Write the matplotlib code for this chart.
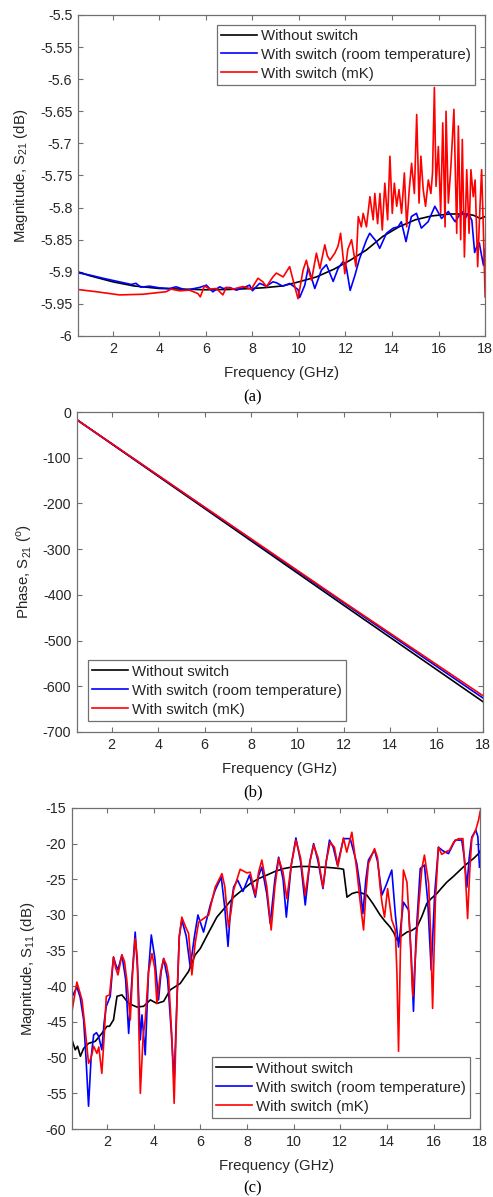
import matplotlib
matplotlib.use("Agg")
import matplotlib.pyplot as plt

plt.rcParams["font.family"] = ["Liberation Sans", "DejaVu Sans"]
plt.rcParams["axes.unicode_minus"] = False

LABELS = ["Without switch", "With switch (room temperature)", "With switch (mK)"]
COLORS = ["#000000", "#0000ff", "#ff0000"]

# ---- (a) |S21| in dB ----
fa_k = [0.5, 1, 2, 2.9, 4, 5, 6, 7, 8, 8.6, 9.3, 10, 10.75, 11.5, 12.2, 12.9, 13.6,
        14.3, 15, 15.7, 16.5, 17.2, 17.5, 17.8, 18]
s21_k = [-5.900, -5.906, -5.9156, -5.922, -5.926, -5.927, -5.928, -5.9275, -5.926,
         -5.9245, -5.922, -5.9156, -5.908, -5.896, -5.882, -5.866, -5.845, -5.830,
         -5.819, -5.813, -5.810, -5.810, -5.812, -5.817, -5.814]

fa_b = [0.5, 1.0, 1.57, 2.2, 2.79, 3.0, 3.2, 3.58, 4.0, 4.44, 4.72, 5.15, 5.73, 6.02,
        6.3, 6.59, 6.75, 7.02, 7.31, 7.6, 7.88, 8.0, 8.31, 8.6, 8.88, 9.03, 9.3, 9.6,
        9.96, 10.03, 10.25, 10.4, 10.68, 10.97, 11.18, 11.47, 11.68, 11.9, 12.03, 12.2,
        12.41, 12.6, 12.9, 13.04, 13.33, 13.47, 13.76, 14.05, 14.26, 14.4, 14.6, 14.83,
        15.05, 15.26, 15.55, 15.84, 16.13, 16.42, 16.71, 17.0, 17.14, 17.28, 17.43,
        17.55, 17.65, 17.75, 17.85, 17.93, 18.0]
s21_b = [-5.9015, -5.905, -5.910, -5.915, -5.9197, -5.918, -5.924, -5.9224, -5.925,
         -5.926, -5.9234, -5.9286, -5.9244, -5.9208, -5.9312, -5.9234, -5.926, -5.9244,
         -5.9286, -5.925, -5.9208, -5.9296, -5.918, -5.9224, -5.9156, -5.917, -5.9224,
         -5.9182, -5.9276, -5.9400, -5.921, -5.893, -5.926, -5.897, -5.889, -5.915,
         -5.895, -5.884, -5.892, -5.929, -5.905, -5.880, -5.8505, -5.840, -5.853,
         -5.8635, -5.840, -5.832, -5.830, -5.822, -5.853, -5.814, -5.809, -5.832,
         -5.822, -5.798, -5.817, -5.806, -5.822, -5.806, -5.817, -5.809, -5.820,
         -5.870, -5.860, -5.855, -5.875, -5.890, -5.865]

fa_r = [0.5, 1.28, 2.29, 3.29, 4.3, 4.5, 4.87, 5.3, 5.66, 5.76, 5.94, 6.16, 6.45, 6.73,
        6.88, 7.16, 7.6, 7.95, 8.24, 8.46, 8.6, 8.88, 9.03, 9.32, 9.6, 9.82, 9.96,
        10.18, 10.32, 10.43, 10.54, 10.75, 10.9, 11.11, 11.22, 11.33, 11.54, 11.68,
        11.79, 11.97, 12.1, 12.26, 12.45, 12.55, 12.68, 12.76, 12.9, 13.05, 13.19,
        13.26, 13.38, 13.48, 13.58, 13.69, 13.81, 13.91, 14.01, 14.1, 14.2, 14.3,
        14.41, 14.53, 14.63, 14.74, 14.84, 14.96, 15.06, 15.16, 15.24, 15.34, 15.44,
        15.56, 15.67, 15.74, 15.82, 15.89, 15.99, 16.09, 16.18, 16.28, 16.32, 16.42,
        16.53, 16.66, 16.78, 16.85, 16.95, 17.02, 17.11, 17.21, 17.31, 17.39, 17.49,
        17.57, 17.68, 17.78, 17.85, 17.93, 18.0]
s21_r = [-5.9276, -5.931, -5.936, -5.935, -5.931, -5.927, -5.9296, -5.9286, -5.934,
         -5.939, -5.922, -5.927, -5.926, -5.936, -5.924, -5.927, -5.923, -5.927,
         -5.910, -5.916, -5.9234, -5.908, -5.902, -5.908, -5.892, -5.923, -5.942,
         -5.897, -5.882, -5.900, -5.913, -5.871, -5.895, -5.858, -5.875, -5.882,
         -5.871, -5.860, -5.840, -5.903, -5.865, -5.850, -5.892, -5.814, -5.830,
         -5.809, -5.830, -5.783, -5.819, -5.778, -5.825, -5.778, -5.835, -5.762,
         -5.819, -5.720, -5.809, -5.762, -5.798, -5.772, -5.809, -5.746, -5.830,
         -5.772, -5.731, -5.778, -5.655, -5.793, -5.720, -5.772, -5.798, -5.757,
         -5.778, -5.746, -5.613, -5.767, -5.705, -5.809, -5.668, -5.830, -5.650,
         -5.793, -5.736, -5.647, -5.840, -5.673, -5.850, -5.694, -5.877, -5.741,
         -5.840, -5.741, -5.783, -5.757, -5.892, -5.798, -5.741, -5.840, -5.939]

# ---- (b) phase S21 in degrees ----
fb = [0.5, 6, 12, 18]
ph_k = [-17, -211, -423, -634]
ph_b = [-17, -209, -418, -626]
ph_r = [-17, -208, -416, -621]

# ---- (c) |S11| in dB ----
fc_k = [0.5, 0.64, 0.74, 0.86, 1.0, 1.21, 1.5, 1.78, 2.0, 2.11, 2.28, 2.43, 2.64,
        2.93, 3.28, 3.57, 3.86, 4.14, 4.43, 4.71, 5.14, 5.5, 5.78, 6.0, 6.35, 6.71,
        7.05, 7.43, 7.8, 8.14, 8.5, 8.86, 9.2, 9.57, 9.9, 10.29, 10.65, 11.0, 11.35,
        11.71, 12.0, 12.14, 12.29, 12.5, 12.71, 12.9, 13.14, 13.4, 13.71, 13.9, 14.14,
        14.3, 14.43, 14.6, 14.86, 15.05, 15.29, 15.5, 15.71, 15.9, 16.14, 16.35,
        16.57, 16.85, 17.14, 17.4, 17.71, 17.93, 18.0]
s11_k = [-47.5, -48.9, -48.4, -49.8, -48.7, -48.0, -47.7, -46.6, -45.6, -45.6, -44.7,
         -41.4, -41.2, -42.4, -42.9, -42.8, -41.9, -42.4, -42.1, -40.5, -39.6, -37.9,
         -35.6, -34.7, -32.5, -30.3, -29.0, -27.5, -26.5, -25.6, -24.9, -24.4, -23.9,
         -23.5, -23.3, -23.2, -23.2, -23.3, -23.3, -23.4, -23.5, -23.6, -27.5, -27.0,
         -26.8, -26.9, -27.2, -28.4, -30.0, -30.8, -31.7, -32.5, -33.5, -33.0, -32.4,
         -32.2, -31.7, -30.2, -28.4, -27.7, -27.0, -26.2, -25.4, -24.6, -23.7, -22.9,
         -22.1, -21.4, -21.0]

fc_b = [0.5, 0.71, 0.85, 1.0, 1.1, 1.21, 1.32, 1.43, 1.55, 1.64, 1.78, 1.88, 1.97,
        2.14, 2.28, 2.38, 2.47, 2.64, 2.8, 2.93, 3.05, 3.21, 3.32, 3.43, 3.5, 3.64,
        3.78, 3.9, 4.05, 4.21, 4.32, 4.43, 4.6, 4.75, 4.88, 5.0, 5.1, 5.21, 5.4, 5.57,
        5.75, 5.9, 6.14, 6.43, 6.64, 6.9, 7.05, 7.19, 7.3, 7.43, 7.6, 7.83, 8.11, 8.36,
        8.5, 8.64, 8.85, 9.0, 9.2, 9.36, 9.55, 9.69, 9.9, 10.1, 10.3, 10.5, 10.7,
        10.86, 11.05, 11.26, 11.4, 11.54, 11.7, 11.88, 12.14, 12.43, 12.71, 12.85,
        12.97, 13.1, 13.21, 13.47, 13.6, 13.79, 13.97, 14.21, 14.36, 14.5, 14.71,
        14.93, 15.05, 15.14, 15.25, 15.43, 15.61, 15.75, 15.9, 16.05, 16.21, 16.4,
        16.64, 16.93, 17.21, 17.32, 17.43, 17.53, 17.64, 17.81, 17.9, 17.97]
s11_b = [-41.5, -40.1, -41.5, -44.7, -50.0, -56.8, -50.0, -46.8, -46.5, -47.0, -48.9,
         -45.0, -42.8, -41.4, -35.9, -37.0, -37.7, -35.6, -39.0, -46.6, -40.0, -32.4,
         -38.0, -47.5, -44.0, -49.6, -38.0, -32.8, -36.0, -41.9, -38.0, -36.1, -39.0,
         -46.0, -53.1, -42.0, -33.0, -30.7, -33.0, -37.3, -33.0, -30.0, -32.4, -28.6,
         -26.5, -24.7, -29.0, -34.4, -29.0, -26.1, -25.1, -26.7, -24.4, -27.5, -24.5,
         -23.3, -27.0, -31.2, -25.0, -21.9, -25.0, -30.3, -23.0, -19.2, -22.5, -28.6,
         -22.5, -20.0, -22.5, -26.3, -22.5, -19.5, -20.5, -23.0, -19.3, -19.3, -22.8,
         -26.0, -29.8, -25.0, -22.3, -20.9, -22.5, -27.2, -25.8, -23.7, -29.8, -34.5,
         -28.2, -29.3, -36.0, -43.5, -33.0, -23.5, -23.0, -28.0, -37.7, -27.0, -20.5,
         -21.0, -21.4, -19.5, -19.5, -22.0, -26.1, -22.0, -19.1, -18.1, -19.0, -23.3]

fc_r = [0.5, 0.71, 0.93, 1.05, 1.21, 1.32, 1.43, 1.57, 1.65, 1.78, 1.88, 1.97, 2.11,
        2.28, 2.38, 2.47, 2.64, 2.75, 2.85, 3.0, 3.1, 3.21, 3.3, 3.43, 3.55, 3.64,
        3.78, 3.93, 4.05, 4.14, 4.3, 4.43, 4.55, 4.64, 4.78, 4.88, 5.0, 5.1, 5.21,
        5.35, 5.5, 5.64, 5.78, 5.93, 6.14, 6.36, 6.5, 6.64, 6.93, 7.05, 7.21, 7.32,
        7.43, 7.71, 8.0, 8.14, 8.36, 8.5, 8.64, 8.85, 9.04, 9.2, 9.36, 9.55, 9.71,
        9.9, 10.1, 10.3, 10.5, 10.7, 10.86, 11.05, 11.26, 11.4, 11.57, 11.75, 11.9,
        12.14, 12.28, 12.5, 12.71, 12.85, 13.0, 13.1, 13.21, 13.47, 13.6, 13.71, 13.8,
        13.9, 14.03, 14.12, 14.21, 14.36, 14.43, 14.5, 14.58, 14.71, 14.86, 14.98,
        15.11, 15.22, 15.36, 15.5, 15.61, 15.79, 15.88, 15.96, 16.08, 16.21, 16.35,
        16.5, 16.69, 16.86, 17.07, 17.26, 17.36, 17.46, 17.55, 17.64, 17.81, 17.93,
        18.0]
s11_r = [-43.5, -39.4, -41.9, -45.5, -50.8, -50.0, -48.4, -49.4, -48.5, -52.2, -47.0,
         -41.4, -41.2, -35.9, -37.5, -38.4, -35.6, -36.5, -39.1, -44.7, -38.0, -33.3,
         -36.0, -55.0, -47.0, -44.7, -38.0, -35.4, -37.5, -42.4, -38.0, -36.1, -37.0,
         -38.6, -47.0, -56.4, -42.0, -33.0, -30.3, -31.5, -32.6, -38.4, -34.0, -31.0,
         -30.5, -30.0, -28.0, -26.1, -24.2, -26.0, -31.7, -29.5, -26.5, -23.6, -24.1,
         -24.0, -27.2, -24.0, -22.3, -26.0, -32.1, -26.0, -22.1, -24.0, -27.7, -23.0,
         -19.5, -22.0, -27.2, -22.5, -20.2, -22.0, -26.1, -22.5, -19.8, -20.5, -23.2,
         -19.2, -21.2, -18.4, -23.7, -28.0, -32.1, -27.0, -22.8, -20.7, -22.0, -26.1,
         -28.5, -30.3, -26.3, -28.5, -30.7, -32.1, -38.0, -49.1, -35.0, -23.7, -25.4,
         -32.0, -41.4, -36.0, -28.9, -23.5, -21.6, -25.6, -33.0, -43.1, -28.0, -20.5,
         -21.5, -21.2, -20.9, -19.8, -19.3, -19.3, -24.0, -30.5, -24.0, -19.3, -18.1,
         -16.7, -15.5]

TXT = "#262626"
EDGE = "#707070"


def style_axes(ax, yticks, ylim, ylabel, ylab_x, xlab_y):
    ax.set_xlim(0.5, 18)
    ax.set_ylim(*ylim)
    ax.set_xticks(range(2, 19, 2))
    ax.set_yticks(yticks)
    ax.set_yticklabels([f"{v:g}" for v in yticks])
    ax.tick_params(direction="in", top=True, right=True, length=3.5, width=0.8,
                   color=EDGE, labelcolor=TXT, labelsize=10.3, pad=4)
    for sp in ax.spines.values():
        sp.set_color(EDGE)
        sp.set_linewidth(0.9)
    ax.set_xlabel("Frequency (GHz)", fontsize=10.8, color=TXT)
    ax.xaxis.set_label_coords(0.5, xlab_y)
    ax.set_ylabel(ylabel, fontsize=10.8, color=TXT)
    ax.yaxis.set_label_coords(ylab_x, 0.5)


def add_legend(ax, loc, anchor):
    leg = ax.legend(LABELS, loc=loc, bbox_to_anchor=anchor, fontsize=10.8,
                    frameon=True, fancybox=False, framealpha=1, edgecolor=EDGE,
                    handlelength=2.4, handletextpad=0.25, labelspacing=0.33,
                    borderpad=0.28, borderaxespad=0)
    leg.get_frame().set_linewidth(0.9)
    for t in leg.get_texts():
        t.set_color(TXT)


fig = plt.figure(figsize=(4.93, 11.97), dpi=100)
lw = 1.2

# (a)
ax1 = fig.add_axes([0.158, 0.7193, 0.826, 0.2682])
ax1.plot(fa_k, s21_k, color=COLORS[0], lw=lw)
ax1.plot(fa_b, s21_b, color=COLORS[1], lw=lw)
ax1.plot(fa_r, s21_r, color=COLORS[2], lw=lw)
style_axes(ax1, [-6 + 0.05 * i for i in range(11)], (-6, -5.5),
           "Magnitude, S$_{\\mathregular{21}}$ (dB)", -0.118, -0.095)
add_legend(ax1, "upper right", (0.975, 0.97))

# (b)
ax2 = fig.add_axes([0.156, 0.3885, 0.824, 0.2673])
ax2.plot(fb, ph_k, color=COLORS[0], lw=lw)
ax2.plot(fb, ph_b, color=COLORS[1], lw=lw)
ax2.plot(fb, ph_r, color=COLORS[2], lw=lw)
style_axes(ax2, list(range(-700, 1, 100)), (-700, 0),
           "Phase, S$_{\\mathregular{21}}$ ($^{\\mathregular{o}}$)", -0.105, -0.093)
add_legend(ax2, "lower left", (0.027, 0.035))

# (c)
ax3 = fig.add_axes([0.146, 0.0568, 0.828, 0.2682])
ax3.plot(fc_k, s11_k, color=COLORS[0], lw=lw)
ax3.plot(fc_b, s11_b, color=COLORS[1], lw=lw)
ax3.plot(fc_r, s11_r, color=COLORS[2], lw=lw)
style_axes(ax3, list(range(-60, -14, 5)), (-60, -15),
           "Magnitude, S$_{\\mathregular{11}}$ (dB)", -0.086, -0.093)
add_legend(ax3, "lower right", (0.975, 0.035))

for label, y in [("(a)", 0.668), ("(b)", 0.3383), ("(c)", 0.0075)]:
    fig.text(0.513, y, label, ha="center", va="center", fontsize=12,
             family="Liberation Serif", color="#000000")

fig.savefig("out.png", dpi=100)
